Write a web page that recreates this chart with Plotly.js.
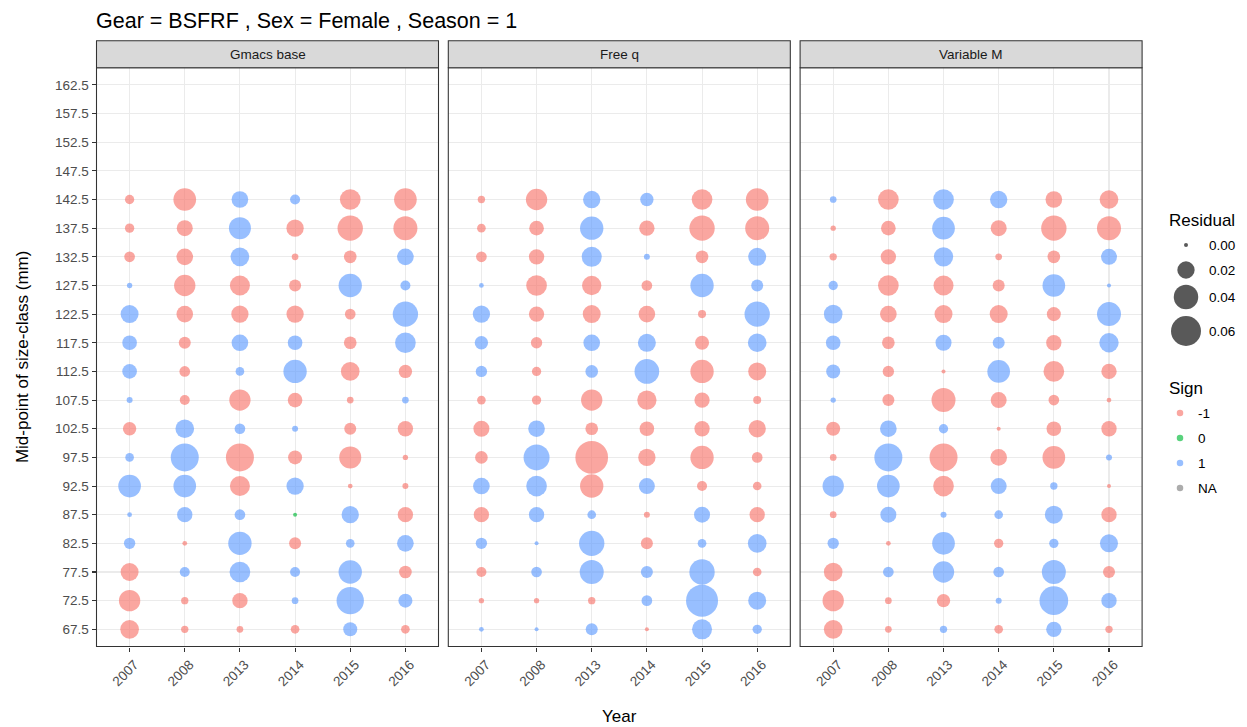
<!DOCTYPE html>
<html>
<head>
<meta charset="utf-8">
<script src="https://cdn.plot.ly/plotly-3.0.1.min.js"></script>
<style>html,body{margin:0;padding:0;background:#fff;}#chart{width:1247px;height:727px;}</style>
</head>
<body>
<div id="chart"></div>
<script>
// ---------- DATA ----------
const years = ['2007', '2008', '2013', '2014', '2015', '2016'];
const sizeClasses = [67.5, 72.5, 77.5, 82.5, 87.5, 92.5, 97.5, 102.5, 107.5, 112.5, 117.5, 122.5, 127.5, 132.5, 137.5, 142.5];
const yTickVals = [67.5, 72.5, 77.5, 82.5, 87.5, 92.5, 97.5, 102.5, 107.5, 112.5, 117.5, 122.5, 127.5, 132.5, 137.5, 142.5, 147.5, 152.5, 157.5, 162.5];
const models = ['Gmacs base', 'Free q', 'Variable M'];
const residualKeys = [0, 0.02, 0.04, 0.06];
const residualKeyLabels = ['0.00', '0.02', '0.04', '0.06'];
const signKeys = ['-1', '0', '1', 'NA'];

// signed residuals: rows = size classes (67.5 .. 142.5), columns = years
const gmacsBase = [
  [-0.0232, -0.0036, -0.0030, -0.0050,  0.0131, -0.0050],
  [-0.0303, -0.0036, -0.0157,  0.0030,  0.0498,  0.0131],
  [-0.0216,  0.0067,  0.0285,  0.0067,  0.0363, -0.0107],
  [ 0.0086, -0.0015,  0.0363, -0.0096,  0.0050,  0.0185],
  [ 0.0015,  0.0157,  0.0076,  0.0000,  0.0200, -0.0157],
  [ 0.0343,  0.0343, -0.0267,  0.0200, -0.0015, -0.0024],
  [ 0.0050,  0.0523, -0.0523, -0.0131, -0.0323, -0.0019],
  [-0.0119,  0.0232,  0.0076,  0.0024, -0.0096, -0.0157],
  [ 0.0024, -0.0067, -0.0303, -0.0143, -0.0030,  0.0030],
  [ 0.0143, -0.0076,  0.0050,  0.0363, -0.0232, -0.0119],
  [ 0.0143, -0.0096,  0.0185,  0.0143, -0.0107,  0.0285],
  [ 0.0216, -0.0185, -0.0200, -0.0200, -0.0076,  0.0428],
  [ 0.0019, -0.0303, -0.0267, -0.0096,  0.0363,  0.0067],
  [-0.0076, -0.0185,  0.0232, -0.0030, -0.0107,  0.0185],
  [-0.0058, -0.0171,  0.0323, -0.0200, -0.0428, -0.0384],
  [-0.0058, -0.0343,  0.0185,  0.0067, -0.0285, -0.0343]
];
const freeQ = [
  [ 0.0015,  0.0007,  0.0096, -0.0007,  0.0267,  0.0058],
  [-0.0019, -0.0019, -0.0036,  0.0076,  0.0683,  0.0216],
  [-0.0067,  0.0076,  0.0384,  0.0096,  0.0428, -0.0050],
  [ 0.0086,  0.0005,  0.0428, -0.0096,  0.0050,  0.0232],
  [-0.0157,  0.0157,  0.0050, -0.0024,  0.0171, -0.0157],
  [ 0.0185,  0.0285, -0.0363,  0.0171, -0.0067, -0.0050],
  [-0.0107,  0.0451, -0.0711, -0.0200, -0.0363, -0.0076],
  [-0.0171,  0.0185, -0.0107, -0.0143, -0.0157, -0.0200],
  [-0.0050, -0.0058, -0.0303, -0.0249, -0.0157, -0.0043],
  [ 0.0086, -0.0058,  0.0107,  0.0406, -0.0363, -0.0216],
  [ 0.0119, -0.0086,  0.0185,  0.0216, -0.0131,  0.0232],
  [ 0.0200, -0.0157, -0.0216, -0.0185, -0.0043,  0.0428],
  [ 0.0015, -0.0285, -0.0249, -0.0076,  0.0363,  0.0096],
  [-0.0076, -0.0157,  0.0267,  0.0024, -0.0107,  0.0216],
  [-0.0050, -0.0143,  0.0363, -0.0157, -0.0428, -0.0384],
  [-0.0036, -0.0303,  0.0200,  0.0119, -0.0285, -0.0343]
];
const variableM = [
  [-0.0232, -0.0030,  0.0036, -0.0050,  0.0157, -0.0036],
  [-0.0303, -0.0030, -0.0119,  0.0024,  0.0548,  0.0157],
  [-0.0232,  0.0076,  0.0303,  0.0076,  0.0384, -0.0096],
  [ 0.0086, -0.0015,  0.0343, -0.0058,  0.0058,  0.0216],
  [-0.0030,  0.0171,  0.0024,  0.0050,  0.0216, -0.0157],
  [ 0.0303,  0.0343, -0.0285,  0.0171,  0.0036, -0.0007],
  [-0.0030,  0.0523, -0.0523, -0.0185, -0.0343,  0.0024],
  [-0.0131,  0.0185,  0.0058, -0.0011, -0.0143, -0.0157],
  [ 0.0019, -0.0096, -0.0384, -0.0171, -0.0076, -0.0015],
  [ 0.0131, -0.0086, -0.0011,  0.0343, -0.0285, -0.0157],
  [ 0.0143, -0.0107,  0.0171,  0.0096, -0.0157,  0.0249],
  [ 0.0232, -0.0185, -0.0216, -0.0216, -0.0131,  0.0384],
  [ 0.0058, -0.0285, -0.0267, -0.0096,  0.0343,  0.0011],
  [-0.0036, -0.0157,  0.0249, -0.0030, -0.0107,  0.0171],
  [-0.0019, -0.0143,  0.0343, -0.0171, -0.0428, -0.0384],
  [ 0.0030, -0.0285,  0.0285,  0.0200, -0.0185, -0.0232]
];
const panelData = [gmacsBase, freeQ, variableM];

// ---------- STYLE / LAYOUT ----------
const W = 1247, H = 727;
const FONT = 'Liberation Sans, Arial, Helvetica, sans-serif';
const SIZEREF = 2 * 0.06 / (30 * 30);  // area mode: 0.06 -> 30 px diameter
const MIN_SIZE = 1e-6;                 // keeps zero residuals visible through sizemin
const OPAC = 0.65;
const signColor = {'-1': '#F8766D', '0': '#00BA38', '1': '#619CFF', 'NA': '#7F7F7F'};
const panelPx = [[96.5, 438.5], [448.3, 790.3], [800.1, 1142.1]];
const panelTop = 67.7, panelBottom = 646.5, stripTop = 40.7;
const legLeft = 1150;
const fx = px => px / W;
const fy = px => 1 - px / H;

const traces = [];
const axNames = ['x', 'x2', 'x3'];
panelData.forEach((mat, p) => {
  [-1, 0, 1].forEach(s => {
    const xs = [], ys = [], sz = [];
    mat.forEach((row, i) => row.forEach((v, j) => {
      if (Math.sign(v) === s) {
        xs.push(years[j]); ys.push(sizeClasses[i]); sz.push(Math.max(Math.abs(v), MIN_SIZE));
      }
    }));
    if (!xs.length) return;
    traces.push({
      type: 'scatter', mode: 'markers', x: xs, y: ys,
      xaxis: axNames[p], yaxis: 'y', showlegend: false, hoverinfo: 'x+y',
      marker: {size: sz, sizemode: 'area', sizeref: SIZEREF, sizemin: 2,
               color: signColor[String(s)], opacity: OPAC, line: {width: 0}}
    });
  });
});

// legend keys drawn on a hidden pixel-space axis in the right margin
const legX = 1186, legY = [245, 270, 297, 331];
const signX = 1180, signY = [413, 438, 463, 488];
traces.push({
  type: 'scatter', mode: 'markers', xaxis: 'x4', yaxis: 'y4', showlegend: false, hoverinfo: 'skip',
  x: residualKeys.map(() => legX), y: legY,
  marker: {size: residualKeys.map(v => Math.max(v, MIN_SIZE)), sizemode: 'area', sizeref: SIZEREF, sizemin: 2,
           color: '#000000', opacity: OPAC, line: {width: 0}}
});
traces.push({
  type: 'scatter', mode: 'markers', xaxis: 'x4', yaxis: 'y4', showlegend: false, hoverinfo: 'skip',
  x: signKeys.map(() => signX), y: signY,
  marker: {size: 6.5, color: signKeys.map(k => signColor[k]), opacity: OPAC, line: {width: 0}}
});

const gridColor = '#EBEBEB';
function xAxis(p) {
  return {
    domain: [fx(panelPx[p][0]), fx(panelPx[p][1])], anchor: 'y',
    type: 'category', categoryorder: 'array', categoryarray: years,
    range: [-0.6, 5.6], showgrid: true, gridcolor: gridColor, gridwidth: 1.07,
    zeroline: false, showline: false, ticks: 'outside', ticklen: 4, tickwidth: 1.07, tickcolor: '#333333',
    tickangle: -45, ticklabelshift: 5, tickfont: {family: FONT, size: 13.5, color: '#4D4D4D'},
    fixedrange: true, automargin: false
  };
}
const layout = {
  width: W, height: H, margin: {l: 0, r: 0, t: 0, b: 0},
  paper_bgcolor: '#FFFFFF', plot_bgcolor: 'rgba(0,0,0,0)',
  font: {family: FONT, color: '#000000'},
  title: {text: 'Gear = BSFRF , Sex = Female , Season = 1', x: fx(96), xanchor: 'left', xref: 'paper',
          y: fy(20.5), yanchor: 'middle', yref: 'paper', font: {family: FONT, size: 21.5, color: '#000000'}, automargin: false},
  xaxis: xAxis(0), xaxis2: xAxis(1), xaxis3: xAxis(2),
  yaxis: {
    domain: [fy(panelBottom), fy(panelTop)], anchor: 'x', range: [64.5, 165.5],
    tickmode: 'array', tickvals: yTickVals, ticktext: yTickVals.map(v => v.toFixed(1)),
    showgrid: true, gridcolor: gridColor, gridwidth: 1.07, zeroline: false, showline: false,
    ticks: 'outside', ticklen: 4, tickwidth: 1.07, tickcolor: '#333333',
    tickfont: {family: FONT, size: 13.5, color: '#4D4D4D'}, fixedrange: true, automargin: false
  },
  xaxis4: {domain: [fx(legLeft), 1], anchor: 'y4', range: [legLeft, W], visible: false, fixedrange: true},
  yaxis4: {domain: [0, 1], anchor: 'x4', range: [H, 0], visible: false, fixedrange: true},
  shapes: [], annotations: []
};

['x', 'x2', 'x3'].forEach((ax, p) => {
  layout.shapes.push({type: 'rect', xref: ax + ' domain', yref: 'y domain', x0: 0, x1: 1, y0: 0, y1: 1,
                      line: {color: '#333333', width: 1.07}, fillcolor: 'rgba(0,0,0,0)', layer: 'above'});
  layout.shapes.push({type: 'rect', xref: ax + ' domain', yref: 'paper', x0: 0, x1: 1,
                      y0: fy(panelTop), y1: fy(stripTop),
                      line: {color: '#333333', width: 1.07}, fillcolor: '#D9D9D9', layer: 'above'});
  layout.annotations.push({text: models[p], xref: ax + ' domain', yref: 'paper', x: 0.5,
                           y: (fy(panelTop) + fy(stripTop)) / 2, xanchor: 'center', yanchor: 'middle',
                           showarrow: false, font: {family: FONT, size: 13.5, color: '#1A1A1A'}});
});

layout.annotations.push({text: 'Year', xref: 'paper', yref: 'paper',
  x: fx((panelPx[1][0] + panelPx[1][1]) / 2), y: fy(716), xanchor: 'center', yanchor: 'middle',
  showarrow: false, font: {family: FONT, size: 17, color: '#000000'}});
layout.annotations.push({text: 'Mid-point of size-class (mm)', xref: 'paper', yref: 'paper',
  x: fx(22), y: fy((panelTop + panelBottom) / 2), xanchor: 'center', yanchor: 'middle', textangle: -90,
  showarrow: false, font: {family: FONT, size: 17, color: '#000000'}});

layout.annotations.push({text: 'Residual', xref: 'paper', yref: 'paper', x: fx(1167), y: fy(221),
  xanchor: 'left', yanchor: 'middle', showarrow: false, font: {family: FONT, size: 17, color: '#000000'}});
residualKeyLabels.forEach((t, i) => layout.annotations.push({text: t, xref: 'paper', yref: 'paper',
  x: fx(1207), y: fy(legY[i]), xanchor: 'left', yanchor: 'middle', showarrow: false,
  font: {family: FONT, size: 13.5, color: '#000000'}}));
layout.annotations.push({text: 'Sign', xref: 'paper', yref: 'paper', x: fx(1167), y: fy(388),
  xanchor: 'left', yanchor: 'middle', showarrow: false, font: {family: FONT, size: 17, color: '#000000'}});
signKeys.forEach((t, i) => layout.annotations.push({text: t, xref: 'paper', yref: 'paper',
  x: fx(1196), y: fy(signY[i]), xanchor: 'left', yanchor: 'middle', showarrow: false,
  font: {family: FONT, size: 13.5, color: '#000000'}}));

Plotly.newPlot('chart', traces, layout, {displayModeBar: false, staticPlot: true});
</script>
</body>
</html>
